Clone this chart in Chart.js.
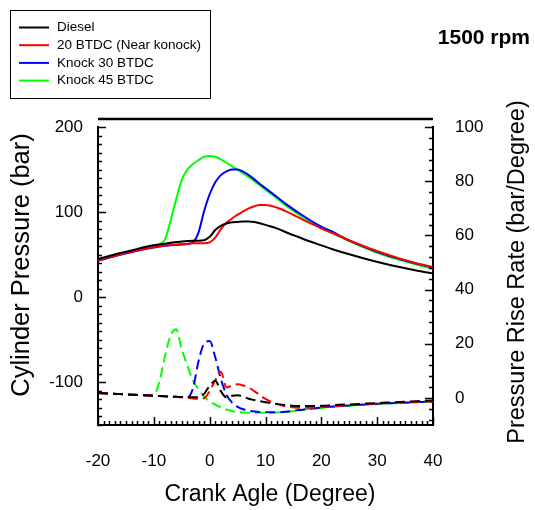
<!DOCTYPE html>
<html><head><meta charset="utf-8">
<script src="https://cdn.jsdelivr.net/npm/chart.js@4.4.0/dist/chart.umd.min.js"></script>
<style>html,body{margin:0;padding:0;background:#fff;}#wrap{width:535px;height:510px;}</style>
</head><body><div id="wrap"><canvas id="c" width="535" height="510"></canvas></div>
<script>
const crankAngle = [-20,-18,-16,-14,-12,-10,-9,-8,-7,-6,-5,-4,-3,-2,-1,0,1,2,3,4,5,6,7,8,9,10,12,14,16,18,20,22,25,28,31,34,37,40];

const dieselPressure = [45,48.5,52,55,58.5,61,62,63,64,65,65.5,66,66.5,66.5,67,71,79,84,86.5,88,88.5,89,89,88.5,87,85,81,75.5,70.5,65.5,61,56.5,50.5,45,40,35.5,31.5,28];
const btdc20Pressure = [43.5,47,50.5,53.5,56.5,59,60,61,61.5,62,62.5,63,63.5,63.5,63.5,64.5,70,80,87.5,92.5,97,101,104.5,107,108.5,108.5,105.5,100,93.5,87,81,75.5,67,59,52,45.5,40,35.5];
const knock30Pressure = [43,46.5,50,53,56,58.5,59.5,60.5,61,61.5,62,62.5,64.5,76,101,121,135,143.5,148,150,150,147.5,143.5,138.5,133,128,118,108,99,90.5,83,77,66.5,58.5,51,45,39.5,35];
const knock45Pressure = [44.5,48,51.5,54.5,57.5,60.5,62.5,68,90,115,138,150,156.5,161,165,166,165,162,158,154,149.5,145.5,141,136.5,131.5,126.5,116.5,106,97,88.5,81,75,66,57.5,50,44,38.5,33.5];

const dieselRate = [1.8,1.6,1.4,1.2,1.0,0.8,0.7,0.6,0.5,0.4,0.3,0.3,0.2,0.3,1.5,4.5,6.3,2.5,0.2,0.8,1.0,0.5,-0.3,-0.8,-1.2,-1.6,-2.2,-2.7,-3.0,-3.0,-2.9,-2.7,-2.4,-2.1,-1.8,-1.5,-1.2,-1.0];
const btdc20Rate = [1.8,1.6,1.4,1.2,1.0,0.8,0.7,0.6,0.5,0.4,0.2,0.0,-0.2,-0.3,-0.1,2.5,6.5,9.7,3.8,4.6,5.0,4.6,3.8,2.5,1.0,-0.4,-2.3,-3.2,-3.6,-3.6,-3.4,-3.1,-2.7,-2.3,-2.0,-1.7,-1.5,-1.3];
const knock30Rate = [1.8,1.6,1.4,1.2,1.0,0.8,0.7,0.6,0.5,0.4,0.3,0.1,3.5,13.5,20,21,15,7,1.2,-1.7,-3.3,-4.2,-4.7,-5.0,-5.2,-5.3,-5.3,-5.0,-4.5,-4.0,-3.6,-3.2,-2.8,-2.4,-2.1,-1.8,-1.6,-1.4];
const knock45Rate = [1.8,1.6,1.4,1.2,1.0,1.2,6,15.5,23,25.3,18,12,6.5,3.2,0.5,-1.3,-2.5,-3.5,-4.3,-4.8,-5.2,-5.4,-5.5,-5.5,-5.5,-5.5,-5.4,-5.1,-4.6,-4.1,-3.7,-3.3,-2.9,-2.5,-2.2,-1.9,-1.6,-1.4];

const seriesNames = ['Diesel','20 BTDC (Near konock)','Knock 30 BTDC','Knock 45 BTDC'];
const seriesColors = ['#000000','#ff0000','#0000ff','#00ff00'];
const xTicks = [-20,-10,0,10,20,30,40];
const pressureTicks = [-100,0,100,200];
const rateTicks = [0,20,40,60,80,100];
const chartTitle = '1500 rpm';
const xTitle = 'Crank Agle (Degree)';
const leftTitle = 'Cylinder Pressure (bar)';
const rightTitle = 'Pressure Rise Rate (bar/Degree)';

const FONT = "'Liberation Sans', Arial, Helvetica, sans-serif";

function pts(vals){ return crankAngle.map((a,i)=>({x:a,y:vals[i]})); }
const pressures = [dieselPressure,btdc20Pressure,knock30Pressure,knock45Pressure];
const rates = [dieselRate,btdc20Rate,knock30Rate,knock45Rate];
const datasets = [];
pressures.forEach((v,i)=>datasets.push({label:seriesNames[i],data:pts(v),borderColor:seriesColors[i],backgroundColor:seriesColors[i],borderWidth:2,pointRadius:0,yAxisID:'yP',cubicInterpolationMode:'monotone',showInLegend:true}));
rates.forEach((v,i)=>datasets.push({label:seriesNames[i]+' rate',data:pts(v),borderColor:seriesColors[i],backgroundColor:seriesColors[i],borderWidth:2,borderDash:[10,5],pointRadius:0,yAxisID:'yR',cubicInterpolationMode:'monotone',showInLegend:false}));

const decorPlugin = {
  id:'decor',
  afterDatasetsDraw(chart){
    const ctx = chart.ctx, a = chart.chartArea;
    const sx = chart.scales.x, sl = chart.scales.yP, sr = chart.scales.yR;
    ctx.save();
    ctx.strokeStyle = '#000'; ctx.lineWidth = 1.5;
    ctx.beginPath();
    for (let v = sx.min; v <= sx.max + 1e-9; v += 1) {
      const p = Math.round(sx.getPixelForValue(v)) + 0.5;
      const len = (Math.abs(v % 10) < 1e-9) ? 8 : 4;
      ctx.moveTo(p, a.bottom); ctx.lineTo(p, a.bottom - len);
    }
    for (let v = -150; v <= sl.max + 1e-9; v += 10) {
      const p = Math.round(sl.getPixelForValue(v)) + 0.5;
      const len = (Math.abs(v % 100) < 1e-9) ? 8 : 4;
      ctx.moveTo(a.left, p); ctx.lineTo(a.left + len, p);
    }
    for (let v = -8; v <= sr.max + 1e-9; v += 4) {
      const p = Math.round(sr.getPixelForValue(v)) + 0.5;
      const len = (Math.abs(v % 20) < 1e-9) ? 8 : 4;
      ctx.moveTo(a.right, p); ctx.lineTo(a.right - len, p);
    }
    ctx.stroke();
    ctx.lineWidth = 2.5;
    ctx.beginPath(); ctx.moveTo(a.left, a.top - 8); ctx.lineTo(a.right, a.top - 8); ctx.stroke();
    ctx.restore();
  },
  afterDraw(chart){
    const ctx = chart.ctx, a = chart.chartArea;
    ctx.save();
    ctx.strokeStyle = '#000'; ctx.lineWidth = 1;
    ctx.strokeRect(10.5, 10.5, 200, 88);
    ctx.font = "13.5px " + FONT; ctx.textBaseline = 'middle'; ctx.textAlign = 'left';
    let row = 0;
    chart.data.datasets.forEach(ds=>{
      if (!ds.showInLegend) return;
      const y = 27.5 + row * 17.7;
      ctx.strokeStyle = ds.borderColor; ctx.lineWidth = 2;
      ctx.beginPath(); ctx.moveTo(19, y); ctx.lineTo(49, y); ctx.stroke();
      ctx.fillStyle = '#000';
      ctx.fillText(ds.label, 57, y);
      row++;
    });
    ctx.font = "bold 21px " + FONT; ctx.textAlign = 'right'; ctx.textBaseline = 'alphabetic';
    ctx.fillStyle = '#000';
    ctx.fillText(chartTitle, 530, 44);
    // axis titles
    ctx.textAlign = 'center'; ctx.textBaseline = 'middle';
    ctx.font = "23px " + FONT;
    ctx.fillText(xTitle, 270, 495);
    ctx.save();
    ctx.translate(22, 265); ctx.rotate(-Math.PI/2);
    ctx.font = "25.5px " + FONT;
    ctx.fillText(leftTitle, 0, 0);
    ctx.restore();
    ctx.save();
    ctx.translate(518, 272); ctx.rotate(-Math.PI/2);
    ctx.font = "23.5px " + FONT;
    ctx.fillText(rightTitle, 0, 0);
    ctx.restore();
    ctx.restore();
  }
};

const tickFont = {family: FONT, size: 17};

new Chart(document.getElementById('c'), {
  type:'line',
  data:{datasets},
  options:{
    responsive:false, animation:false, maintainAspectRatio:false,
    layout:{padding:{top:127,left:0,right:0,bottom:0}},
    plugins:{legend:{display:false}, tooltip:{enabled:false}, title:{display:false}},
    scales:{
      x:{type:'linear', position:'bottom', min:-20, max:40,
        afterBuildTicks:s=>{s.ticks = xTicks.map(v=>({value:v}));},
        afterFit:s=>{s.height = 85;},
        grid:{display:false,drawTicks:false}, border:{display:true,color:'#000',width:2},
        ticks:{font:tickFont,color:'#000',padding:26,maxRotation:0,autoSkip:false}},
      yP:{type:'linear', position:'left', min:-150, max:200,
        afterBuildTicks:s=>{s.ticks = pressureTicks.map(v=>({value:v}));},
        afterFit:s=>{s.width = 98;},
        grid:{display:false,drawTicks:false}, border:{display:true,color:'#000',width:2},
        ticks:{font:tickFont,color:'#000',padding:15,autoSkip:false}},
      yR:{type:'linear', position:'right', min:-10, max:100,
        afterBuildTicks:s=>{s.ticks = rateTicks.map(v=>({value:v}));},
        afterFit:s=>{s.width = 102;},
        grid:{display:false,drawTicks:false}, border:{display:true,color:'#000',width:2},
        ticks:{font:tickFont,color:'#000',padding:22,autoSkip:false}}
    }
  },
  plugins:[decorPlugin]
});
</script></body></html>
